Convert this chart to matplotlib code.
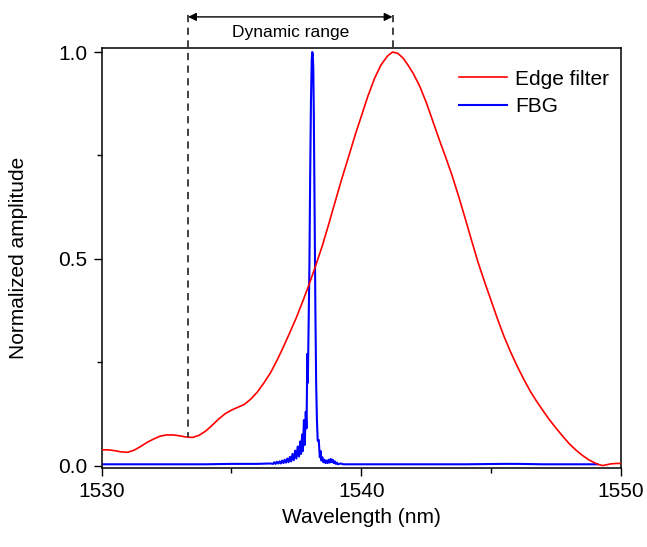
import numpy as np
import matplotlib
matplotlib.use("Agg")
import matplotlib.pyplot as plt

plt.rcParams['font.family'] = ['Liberation Sans', 'DejaVu Sans']

# Edge filter transmission
edge_wl = [1530.0, 1530.25, 1530.5, 1530.75, 1531.0, 1531.25, 1531.5, 1531.75,
           1532.0, 1532.25, 1532.5, 1532.75, 1533.0, 1533.25, 1533.5, 1533.75,
           1534.0, 1534.25, 1534.5, 1534.75, 1535.0, 1535.25, 1535.5, 1535.75,
           1536.0, 1536.25, 1536.5, 1536.75, 1537.0, 1537.25, 1537.5, 1537.75,
           1538.0, 1538.25, 1538.5, 1538.75, 1539.0, 1539.25, 1539.5, 1539.75,
           1540.0, 1540.25, 1540.5, 1540.75, 1541.0, 1541.2, 1541.4, 1541.6,
           1541.8, 1542.0, 1542.25, 1542.5, 1542.75, 1543.0, 1543.25, 1543.5,
           1543.75, 1544.0, 1544.25, 1544.5, 1544.75, 1545.0, 1545.25, 1545.5,
           1545.75, 1546.0, 1546.25, 1546.5, 1546.75, 1547.0, 1547.25, 1547.5,
           1547.75, 1548.0, 1548.25, 1548.5, 1548.75, 1549.0, 1549.15, 1549.3,
           1549.45, 1549.6, 1549.8, 1550.0]
edge_amp = [0.038, 0.038, 0.036, 0.033, 0.032, 0.037, 0.046, 0.056,
            0.064, 0.071, 0.074, 0.074, 0.072, 0.069, 0.068, 0.073,
            0.083, 0.097, 0.112, 0.125, 0.134, 0.141, 0.148, 0.161,
            0.178, 0.200, 0.224, 0.254, 0.287, 0.322, 0.358, 0.398,
            0.440, 0.485, 0.532, 0.585, 0.640, 0.694, 0.745, 0.797,
            0.845, 0.893, 0.935, 0.968, 0.990, 1.000, 0.997, 0.986,
            0.968, 0.948, 0.917, 0.878, 0.833, 0.788, 0.745, 0.700,
            0.650, 0.597, 0.543, 0.490, 0.443, 0.398, 0.353, 0.311,
            0.274, 0.240, 0.209, 0.180, 0.155, 0.132, 0.110, 0.090,
            0.071, 0.053, 0.038, 0.025, 0.014, 0.006, 0.002, 0.000,
            0.002, 0.004, 0.005, 0.005]

# FBG reflection spectrum
fbg_wl = [1530.0, 1531.0, 1532.0, 1533.0, 1534.0, 1535.0, 1536.0, 1536.5,
          1536.60, 1536.65, 1536.70, 1536.75, 1536.80, 1536.85, 1536.90, 1536.95,
          1537.00, 1537.05, 1537.10, 1537.15, 1537.20, 1537.25, 1537.30, 1537.35,
          1537.40, 1537.45, 1537.50, 1537.55, 1537.60, 1537.65, 1537.68, 1537.72,
          1537.75, 1537.79, 1537.82, 1537.86, 1537.89, 1537.92, 1537.94, 1537.97,
          1538.00, 1538.03, 1538.06, 1538.09, 1538.11, 1538.13, 1538.15, 1538.17,
          1538.20, 1538.23, 1538.26, 1538.29, 1538.32, 1538.36, 1538.40, 1538.43,
          1538.46, 1538.50, 1538.54, 1538.58, 1538.62, 1538.66, 1538.70, 1538.74,
          1538.78, 1538.82, 1538.86, 1538.90, 1538.94, 1538.98, 1539.02, 1539.06,
          1539.10, 1539.20, 1539.30, 1539.50, 1540.0, 1542.0, 1544.0, 1545.5,
          1546.0, 1547.0, 1548.0, 1549.1]
fbg_amp = [0.003, 0.003, 0.003, 0.003, 0.003, 0.004, 0.004, 0.005,
           0.004, 0.008, 0.004, 0.009, 0.005, 0.010, 0.005, 0.012,
           0.006, 0.014, 0.007, 0.017, 0.008, 0.021, 0.010, 0.028,
           0.013, 0.036, 0.017, 0.046, 0.022, 0.058, 0.028, 0.075,
           0.035, 0.110, 0.050, 0.130, 0.090, 0.270, 0.200, 0.340,
           0.480, 0.700, 0.880, 0.980, 1.000, 0.995, 0.960, 0.850,
           0.620, 0.380, 0.200, 0.110, 0.060, 0.062, 0.020, 0.035,
           0.012, 0.020, 0.008, 0.014, 0.006, 0.012, 0.006, 0.014,
           0.007, 0.016, 0.008, 0.014, 0.006, 0.010, 0.004, 0.007,
           0.003, 0.005, 0.003, 0.003, 0.003, 0.003, 0.003, 0.004,
           0.004, 0.003, 0.003, 0.003]

# dynamic range limits
range_lo = 1533.33
range_hi = 1541.2

fig = plt.figure(figsize=(6.47, 5.47), dpi=100)
ax = fig.add_axes([0.157, 0.1444, 0.803, 0.768])

l2, = ax.plot(fbg_wl, fbg_amp, color='#0000ff', lw=1.5, label='FBG', zorder=2)
l1, = ax.plot(edge_wl, edge_amp, color='#ff0000', lw=1.2, label='Edge filter', zorder=3)

ax.set_xlim(1530, 1550)
ax.set_ylim(-0.006, 1.01)
ax.set_xticks([1530, 1540, 1550])
ax.set_xticks([1535, 1545], minor=True)
ax.set_yticks([0.0, 0.5, 1.0])
ax.set_yticklabels(['0.0', '0.5', '1.0'])
ax.set_yticks([0.25, 0.75], minor=True)
ax.tick_params(which='major', direction='out', length=6, width=1, labelsize=15, pad=4)
ax.tick_params(which='minor', direction='out', length=3.5, width=1)
ax.tick_params(axis='y', which='both', right=False)
ax.tick_params(axis='x', which='both', top=False)
for s in ax.spines.values():
    s.set_linewidth(1.1)

ax.set_xlabel('Wavelength (nm)', fontsize=15, labelpad=5)
ax.set_ylabel('Normalized amplitude', fontsize=15, labelpad=22)

# dashed markers of the dynamic range
ax.plot([range_lo, range_lo], [1.09, 0.069], ls=(0, (4, 3)), color='#333333',
        lw=1.3, clip_on=False, zorder=4)
ax.plot([range_hi, range_hi], [1.09, 1.0], ls=(0, (4, 3)), color='#333333',
        lw=1.3, clip_on=False, zorder=4)
ax.annotate('', xy=(range_lo, 1.085), xytext=(range_hi, 1.085),
            arrowprops=dict(arrowstyle='<|-|>', color='black', lw=1,
                            mutation_scale=12, shrinkA=0, shrinkB=0),
            annotation_clip=False)
ax.text((range_lo + range_hi) / 2, 1.048, 'Dynamic range', fontsize=12.5,
        ha='center', va='center')

ax.legend(handles=[l1, l2], loc='upper right', bbox_to_anchor=(1.005, 0.983),
          frameon=False, fontsize=15, handlelength=2.3, handletextpad=0.4,
          labelspacing=0.4, borderaxespad=0.3)

fig.savefig('out.png', dpi=100)
